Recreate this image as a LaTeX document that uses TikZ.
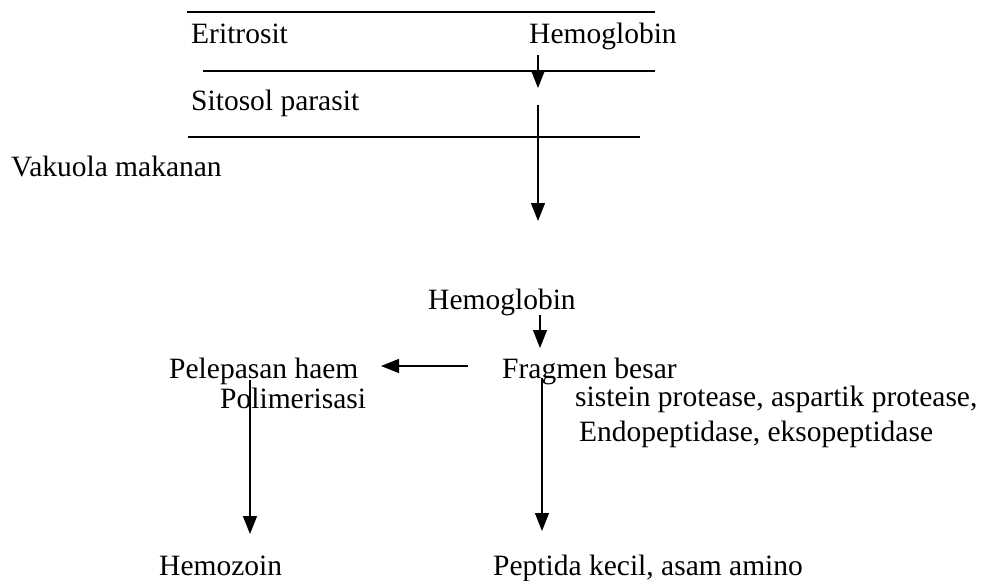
\documentclass[tikz,border=0pt]{standalone}
\usepackage{fontspec}
\setmainfont{Liberation Serif}
\usetikzlibrary{arrows.meta}
\begin{document}
\begin{tikzpicture}[x=1pt,y=-1pt,
  lbl/.style={anchor=base west,inner sep=0pt,font=\fontsize{29.5}{34}\selectfont},
  memb/.style={line width=1.7pt},
  flow/.style={line width=1.4pt,-{Triangle[length=18pt,width=14pt]}}]
\useasboundingbox[fill=white] (0,0) rectangle (986,581);
% membranes
\draw[memb] (187,12) -- (655,12);
\draw[memb] (203,71) -- (655,71);
\draw[memb] (188,137) -- (640,137);
% labels
\node[lbl] (erit) at (191,43) {Eritrosit};
\node[lbl] (hb1) at (529,43) {Hemoglobin};
\node[lbl] (sito) at (191,110) {Sitosol parasit};
\node[lbl] (vak) at (11,176) {Vakuola makanan};
\node[lbl] (hb2) at (428,309) {Hemoglobin};
\node[lbl] (haem) at (169,378) {Pelepasan haem};
\node[lbl] (poli) at (220,408) {Polimerisasi};
\node[lbl] (frag) at (502,378) {Fragmen besar};
\node[lbl] (sis) at (575,406) {sistein protease, aspartik protease,};
\node[lbl] (endo) at (579,441) {Endopeptidase, eksopeptidase};
\node[lbl] (hemoz) at (159,575) {Hemozoin};
\node[lbl] (pep) at (493,575) {Peptida kecil, asam amino};
% arrow end points
\coordinate (a1s) at (538,55);  \coordinate (a1e) at (538,88);
\coordinate (a2s) at (538,105); \coordinate (a2e) at (538,221);
\coordinate (a3s) at (540,315); \coordinate (a3e) at (540,348);
\coordinate (a4s) at (468,366); \coordinate (a4e) at (381,366);
\coordinate (a5s) at (250,380); \coordinate (a5e) at (250,534);
\coordinate (a6s) at (542,378); \coordinate (a6e) at (542,531);
\draw[flow] (a1s) -- (a1e);
\draw[flow] (a2s) -- (a2e);
\draw[flow] (a3s) -- (a3e);
\draw[flow] (a4s) -- (a4e);
\draw[flow] (a5s) -- (a5e);
\draw[flow] (a6s) -- (a6e);
\end{tikzpicture}
\end{document}
